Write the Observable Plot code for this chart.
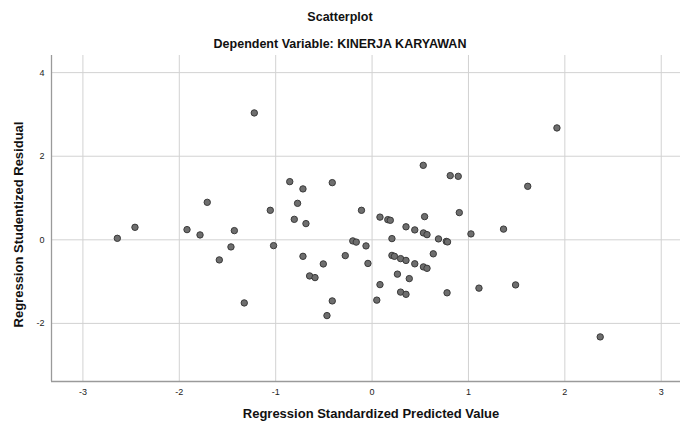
<!DOCTYPE html>
<html><head><meta charset="utf-8">
<script src="https://cdn.jsdelivr.net/npm/d3@7"></script>
<script src="https://cdn.jsdelivr.net/npm/@observablehq/plot@0.6"></script>
<style>
body{margin:0;background:#fff;font-family:"Liberation Sans",Arial,sans-serif;}
#wrap{width:680px;height:425px;position:relative;overflow:hidden;background:#fff}
.t{text-align:center;font-weight:bold;font-size:12.5px;color:#111;white-space:nowrap}
</style></head><body>
<div id="wrap">
<div class="t" style="height:34px;line-height:34px">Scatterplot</div>
<div class="t" style="height:21px;line-height:21px">Dependent Variable: KINERJA KARYAWAN</div>
<div id="chart"></div>
</div>
<script>
const predicted = [-2.643,-2.460,-1.920,-1.785,-1.710,-1.429,-1.464,-1.585,-1.326,-1.056,-1.022,-0.854,-0.773,-0.807,-0.717,-0.686,-0.413,-0.717,-0.506,-0.648,-0.592,-0.413,-0.468,-0.278,-0.200,-0.164,-0.110,-0.063,-0.043,0.082,0.163,0.189,0.206,0.082,0.049,0.206,0.232,0.296,0.352,0.443,0.263,0.386,0.296,0.352,0.352,0.443,0.533,0.570,0.531,0.545,0.811,0.894,0.905,0.689,0.770,0.783,0.635,0.533,0.570,0.778,1.026,1.109,1.364,1.489,1.615,1.918,2.367,-1.222];
const residual = [0.036,0.299,0.244,0.117,0.897,0.220,-0.170,-0.481,-1.510,0.706,-0.139,1.392,0.873,0.490,1.218,0.388,1.368,-0.395,-0.577,-0.864,-0.904,-1.462,-1.813,-0.378,-0.026,-0.055,0.706,-0.146,-0.565,0.543,0.483,0.467,0.029,-1.072,-1.443,-0.373,-0.395,-0.450,-0.493,-0.574,-0.821,-0.928,-1.251,-1.304,0.311,0.237,0.165,0.124,1.782,0.555,1.536,1.519,0.651,0.022,-0.038,-0.050,-0.335,-0.648,-0.682,-1.268,0.141,-1.156,0.256,-1.079,1.280,2.677,-2.323,3.036];
const xTicks = [-3,-2,-1,0,1,2,3];
const yTicks = [-2,0,2,4];
const xDomain = [-3.326,3.2];
const yDomain = [-3.39,4.41];
const xLabel = "Regression Standardized Predicted Value";
const yLabel = "Regression Studentized Residual";

const data = predicted.map((x,i)=>({x, y: residual[i]}));
const fmt = d => String(d);
const plot = Plot.plot({
  width:680, height:370,
  marginTop:0, marginLeft:51, marginRight:0, marginBottom:44,
  style:{fontFamily:"Liberation Sans, Arial, sans-serif", fontSize:"9px", color:"#222", background:"#fff", overflow:"visible"},
  x:{domain:xDomain},
  y:{domain:yDomain},
  marks:[
    Plot.gridX(xTicks,{stroke:"#d2d2d2", strokeOpacity:1}),
    Plot.gridY(yTicks,{stroke:"#d2d2d2", strokeOpacity:1}),
    Plot.axisX(xTicks,{tickSize:0, tickPadding:7, tickFormat:fmt, label:null, fontSize:9, fill:"#222"}),
    Plot.axisY(yTicks,{tickSize:0, tickPadding:7, tickFormat:fmt, label:null, fontSize:9, fill:"#222"}),
    Plot.ruleX([xDomain[0]],{stroke:"#9a9a9a", strokeWidth:1.3}),
    Plot.ruleY([yDomain[0]],{stroke:"#9a9a9a", strokeWidth:1.3}),
    Plot.dot(data,{x:"x",y:"y",r:3.2,fill:"#6e6e6e",stroke:"#3a3a3a",strokeWidth:1}),
    Plot.text([xLabel],{frameAnchor:"bottom", textAnchor:"middle", lineAnchor:"middle", dy:32, dx:5, fontSize:13, fontWeight:"bold", fill:"#111"}),
    Plot.text([yLabel],{frameAnchor:"left", textAnchor:"middle", lineAnchor:"middle", dx:-33, dy:6, rotate:-90, fontSize:13, fontWeight:"bold", fill:"#111"})
  ]
});
document.getElementById("chart").appendChild(plot);
</script>
</body></html>
